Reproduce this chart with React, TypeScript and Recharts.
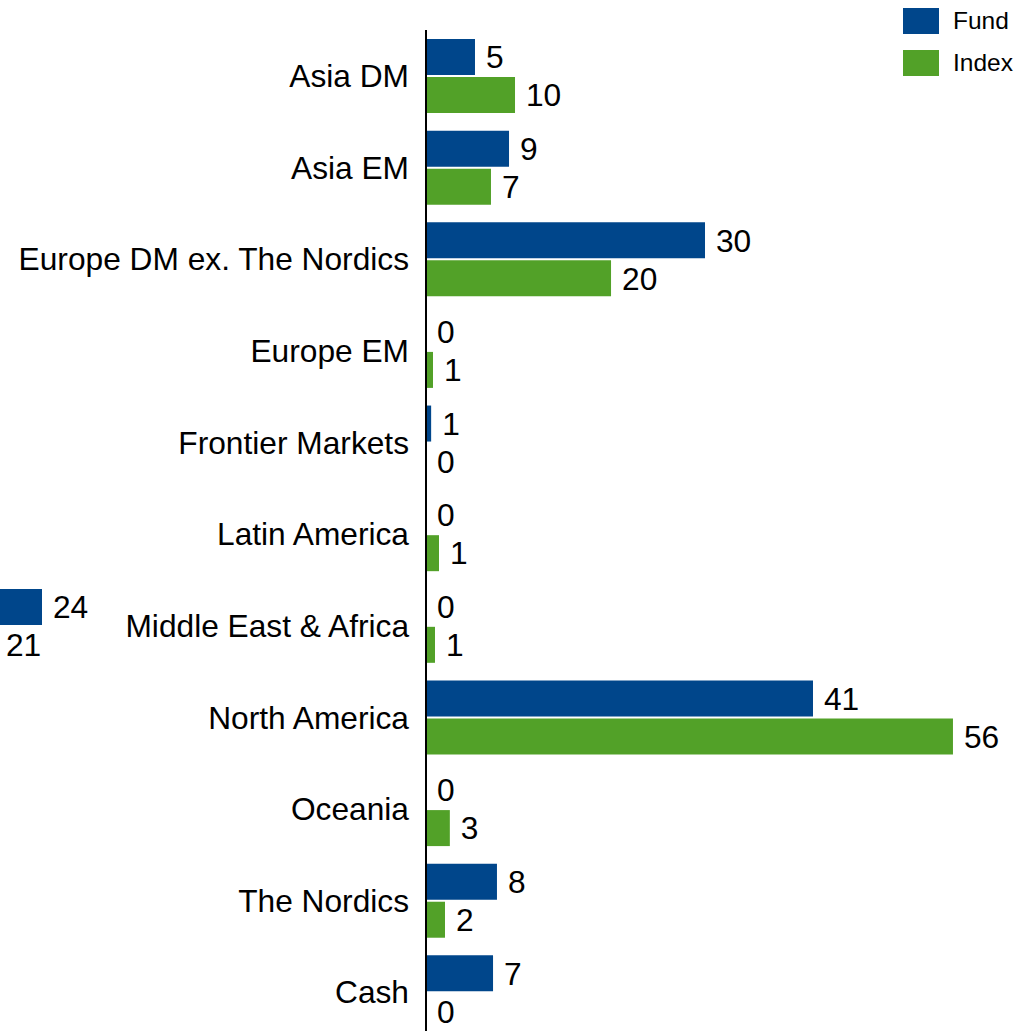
import React from 'react';
import { BarChart, Bar, XAxis, YAxis, Legend, LabelList } from 'recharts';

const categories = [
  'Asia DM',
  'Asia EM',
  'Europe DM ex. The Nordics',
  'Europe EM',
  'Frontier Markets',
  'Latin America',
  'Middle East & Africa',
  'North America',
  'Oceania',
  'The Nordics',
  'Cash',
];
const fundValues = [5.24, 8.88, 29.84, 0, 0.55, 0, 0, 41.39, 0, 7.59, 7.17];
const indexValues = [9.52, 6.95, 19.79, 0.75, 0, 1.39, 0.96, 56.36, 2.55, 2.03, 0];

const seriesNames = ['Fund', 'Index'];
const seriesColors = ['#00468B', '#52A128'];

// clipped fragment visible at the left edge of the reference
const ghostCategories = ['Clipped'];
const ghostFund = [24];
const ghostIndex = [21];

const FONT = '"Liberation Sans", Arial, Helvetica, sans-serif';

const data = categories.map((name, i) => ({ name, fund: fundValues[i], index: indexValues[i] }));
const ghostData = ghostCategories.map((name, i) => ({ name, fund: ghostFund[i], index: ghostIndex[i] }));

const fmt = (v: any) => Math.round(Number(v));
const labelStyle = { fontSize: 31.7, fill: '#000', fontFamily: FONT };

const renderLegend = () => (
  <div style={{ fontFamily: FONT, fontSize: 24.5, color: '#000' }}>
    {seriesNames.map((n, i) => (
      <div key={n} style={{ display: 'flex', alignItems: 'center', height: 42 }}>
        <span style={{ width: 36, height: 26, background: seriesColors[i], display: 'inline-block', marginRight: 14 }} />
        <span>{n}</span>
      </div>
    ))}
  </div>
);

export default function App() {
  return (
    <div style={{ position: 'absolute', left: 0, top: 0, width: 1034, height: 1031, overflow: 'hidden', fontFamily: FONT, background: '#fff' }}>
      <div style={{ position: 'absolute', left: 0, top: 0 }}>
        <BarChart
          layout="vertical"
          width={1034}
          height={1038}
          data={data}
          margin={{ top: 30, right: 47, bottom: 0, left: 0 }}
          barCategoryGap={9}
          barGap={2}
        >
          <XAxis type="number" domain={[0, 60]} hide />
          <YAxis
            type="category"
            dataKey="name"
            width={426}
            interval={0}
            axisLine={{ stroke: '#000', strokeWidth: 2 }}
            tickLine={false}
            tickSize={0}
            tickMargin={17}
            tick={{ fill: '#000', fontSize: 31.7, fontFamily: FONT }}
          />
          <Legend
            layout="vertical"
            align="center"
            verticalAlign="middle"
            content={renderLegend}
            wrapperStyle={{ position: 'absolute', top: 0, left: 903, width: 131, height: 84 }}
          />
          <Bar dataKey="fund" name={seriesNames[0]} fill={seriesColors[0]} minPointSize={0.001} isAnimationActive={false}>
            <LabelList dataKey="fund" position="right" offset={11} formatter={fmt} style={labelStyle} />
          </Bar>
          <Bar dataKey="index" name={seriesNames[1]} fill={seriesColors[1]} minPointSize={0.001} isAnimationActive={false}>
            <LabelList dataKey="index" position="right" offset={11} formatter={fmt} style={labelStyle} />
          </Bar>
        </BarChart>
      </div>
      <div style={{ position: 'absolute', left: -334, top: 580 }}>
        <BarChart
          layout="vertical"
          width={476}
          height={92}
          data={ghostData}
          margin={{ top: 0, right: 100, bottom: 0, left: 0 }}
          barCategoryGap={9}
          barGap={2}
        >
          <XAxis type="number" domain={[0, 24]} hide />
          <YAxis type="category" dataKey="name" hide />
          <Bar dataKey="fund" fill={seriesColors[0]} isAnimationActive={false}>
            <LabelList dataKey="fund" position="right" offset={11} formatter={fmt} style={labelStyle} />
          </Bar>
          <Bar dataKey="index" fill={seriesColors[1]} isAnimationActive={false}>
            <LabelList dataKey="index" position="right" offset={11} formatter={fmt} style={labelStyle} />
          </Bar>
        </BarChart>
      </div>
    </div>
  );
}
